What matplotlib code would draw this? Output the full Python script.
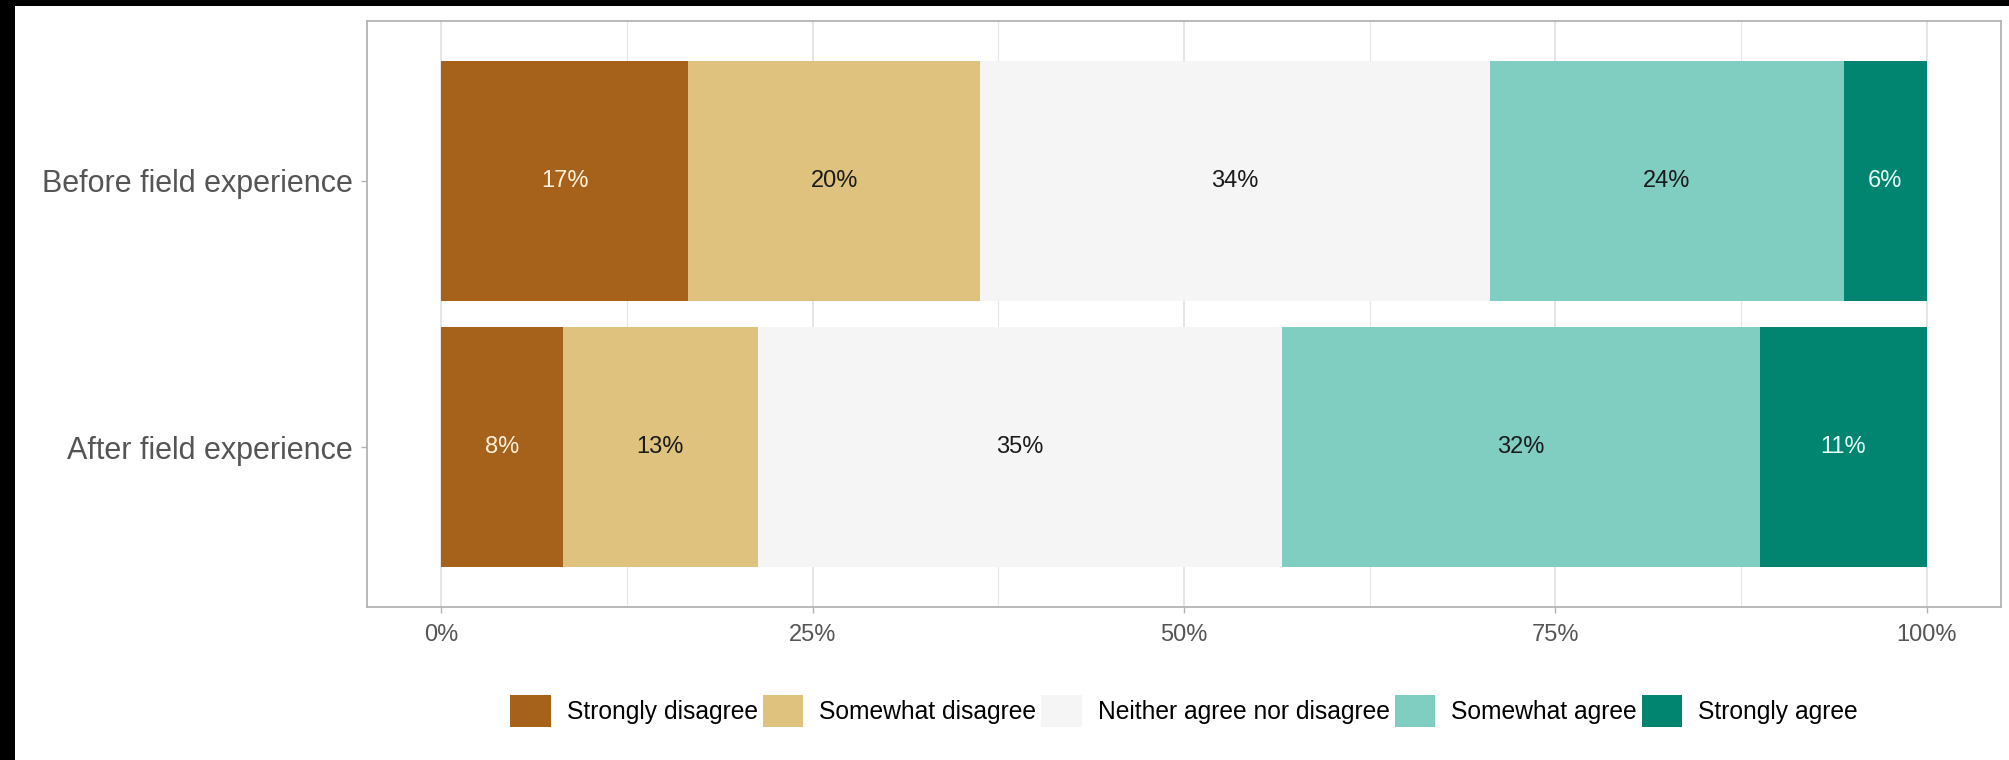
import matplotlib
matplotlib.use("Agg")
import matplotlib.pyplot as plt
from matplotlib.patches import Patch, Rectangle
import numpy as np

plt.rcParams['font.family'] = ['Liberation Sans', 'DejaVu Sans']

# survey data (percent of respondents)
groups = ["Before field experience", "After field experience"]
responses = ["Strongly disagree", "Somewhat disagree", "Neither agree nor disagree",
             "Somewhat agree", "Strongly agree"]
before = [16.6, 19.7, 34.3, 23.8, 5.6]
after = [8.2, 13.1, 35.3, 32.2, 11.2]
x_ticks = [0, 25, 50, 75, 100]
x_tick_labels = ["0%", "25%", "50%", "75%", "100%"]

# BrBG 5 class palette
colors = ["#A6611A", "#DFC27D", "#F5F5F5", "#80CDC1", "#018571"]
label_colors = ["#FFF3DC", "#1A1A1A", "#1A1A1A", "#1A1A1A", "#E6FFF8"]

W, H = 2009, 760
fig = plt.figure(figsize=(W / 100, H / 100), dpi=100)
fig.patch.set_facecolor("white")

# black frame strips seen on the screenshot edges
fig.patches.append(Rectangle((0, 1 - 6 / H), 1, 6 / H, transform=fig.transFigure,
                             facecolor="black", edgecolor="none", zorder=10))
fig.patches.append(Rectangle((0, 0), 15 / W, 1, transform=fig.transFigure,
                             facecolor="black", edgecolor="none", zorder=10))

ax = fig.add_axes([367 / W, 1 - 607 / H, (2001 - 367) / W, (607 - 21) / H])

data = np.array([before, after])
ypos = np.array([2, 1])
left = np.zeros(len(groups))
for j, resp in enumerate(responses):
    vals = data[:, j]
    ax.barh(ypos, vals, left=left, height=0.9, color=colors[j], edgecolor="none",
            label=resp, zorder=2)
    for k in range(len(groups)):
        ax.text(left[k] + vals[k] / 2, ypos[k], f"{vals[k]:.0f}%", ha="center",
                va="center", fontsize=17, color=label_colors[j], zorder=3)
    left = left + vals

ax.set_xlim(-5, 105)
ax.set_ylim(0.4, 2.6)
ax.set_xticks(x_ticks)
ax.set_xticklabels(x_tick_labels)
ax.set_xticks([12.5, 37.5, 62.5, 87.5], minor=True)
ax.set_yticks(ypos)
ax.set_yticklabels(groups)

ax.set_axisbelow(True)
ax.grid(axis="x", which="major", color="#DEDEDE", linewidth=1.1)
ax.grid(axis="x", which="minor", color="#E6E6E6", linewidth=0.8)
ax.tick_params(axis="x", which="minor", length=0)
ax.tick_params(axis="both", which="major", length=4, width=1, color="#B3B3B3")
ax.tick_params(axis="x", which="major", labelsize=17, labelcolor="#555555", pad=8)
ax.tick_params(axis="y", which="major", labelsize=22, labelcolor="#555555", pad=6)
for sp in ax.spines.values():
    sp.set_color("#B3B3B3")
    sp.set_linewidth(1.3)

handles = [Patch(facecolor=c, edgecolor="none") for c in colors]
fig.legend(handles, responses, loc="center", ncol=5, frameon=False,
           bbox_to_anchor=(1184 / W, 1 - 711 / H), fontsize=17.7,
           handlelength=1.65, handleheight=1.65, handletextpad=0.65,
           columnspacing=0.2, borderaxespad=0)

fig.savefig("out.png", dpi=100)
